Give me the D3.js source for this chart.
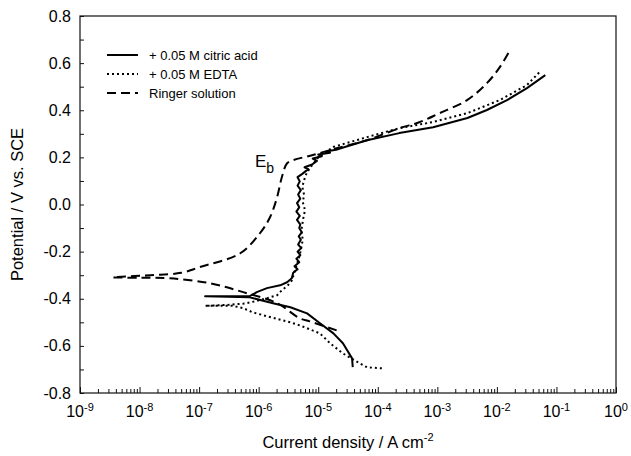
<!DOCTYPE html>
<html>
<head>
<meta charset="utf-8">
<script src="https://cdn.jsdelivr.net/npm/d3@7"></script>
<style>
  body { margin: 0; background: #fff; }
  text { font-family: Arial, "Liberation Sans", Helvetica, sans-serif; fill: #000; }
</style>
</head>
<body>
<script>
// [current density A/cm2, potential V vs SCE]
var citric = [
  [3.8e-5,-0.690],[3.7e-5,-0.653],[2.6e-5,-0.589],[1.8e-5,-0.547],[1.07e-5,-0.504],
  [6.5e-6,-0.462],[3.4e-6,-0.436],[1.74e-6,-0.419],[7.1e-7,-0.394],[1.26e-7,-0.389],
  [7.1e-7,-0.389],[9.3e-7,-0.372],[1.38e-6,-0.355],[2.29e-6,-0.343],[3.0e-6,-0.330],
  [3.6e-6,-0.313],[3.8e-6,-0.290],[4.5e-6,-0.275],[4.0e-6,-0.262],[4.8e-6,-0.245],
  [4.3e-6,-0.230],[5.0e-6,-0.215],[4.5e-6,-0.200],[5.2e-6,-0.185],[4.6e-6,-0.170],
  [5.1e-6,-0.150],[4.7e-6,-0.135],[5.3e-6,-0.118],[4.8e-6,-0.100],[5.0e-6,-0.085],
  [4.4e-6,-0.065],[4.9e-6,-0.048],[4.3e-6,-0.030],[4.8e-6,-0.012],[4.4e-6,0.006],
  [5.0e-6,0.025],[4.6e-6,0.042],[5.1e-6,0.061],[4.5e-6,0.080],[4.9e-6,0.098],
  [4.5e-6,0.116],[5.4e-6,0.130],[6.8e-6,0.150],[5.9e-6,0.158],[7.9e-6,0.170],
  [9.5e-6,0.185],[8.1e-6,0.195],[1.15e-5,0.205],[1.0e-5,0.212],[1.58e-5,0.220],
  [1.4e-5,0.226],[2.0e-5,0.232],[2.8e-5,0.244],[6.6e-5,0.273],[2.3e-4,0.303],
  [8.5e-4,0.328],[3.2e-3,0.367],[6.8e-3,0.401],[1.48e-2,0.443],[3.2e-2,0.494],[6.5e-2,0.549]
];

var edta = [
  [1.17e-4,-0.695],[6.6e-5,-0.691],[4.7e-5,-0.670],[2.6e-5,-0.632],[1.58e-5,-0.589],
  [1.07e-5,-0.547],[4.9e-6,-0.513],[3.4e-6,-0.500],[2.0e-6,-0.485],[1.2e-6,-0.470],
  [8.0e-7,-0.458],[5.5e-7,-0.440],[3.7e-7,-0.430],[1.26e-7,-0.430],[3.0e-7,-0.426],
  [6.0e-7,-0.420],[1.05e-6,-0.406],[2.04e-6,-0.385],[2.45e-6,-0.364],[3.09e-6,-0.343],
  [3.63e-6,-0.322],[4.07e-6,-0.279],[4.9e-6,-0.215],[5.5e-6,-0.150],[5.2e-6,-0.110],
  [5.6e-6,-0.060],[6.0e-6,-0.024],[5.5e-6,0.010],[5.8e-6,0.040],[5.4e-6,0.075],
  [6.0e-6,0.116],[6.5e-6,0.137],[7.9e-6,0.167],[1.0e-5,0.200],[1.78e-5,0.244],
  [6.6e-5,0.286],[2.3e-4,0.324],[8.5e-4,0.350],[3.2e-3,0.388],[1.12e-2,0.443],
  [3.2e-2,0.507],[5.2e-2,0.562]
];

var ringer = [
  [2.04e-5,-0.534],[7.2e-6,-0.496],[4.9e-6,-0.483],[2.04e-6,-0.419],[5.5e-7,-0.372],
  [1.51e-7,-0.334],[3.24e-8,-0.313],[1.0e-8,-0.311],[3.55e-9,-0.309],[1.51e-8,-0.300],
  [5.0e-8,-0.290],[1.02e-7,-0.266],[4.9e-7,-0.207],[1.05e-6,-0.122],[1.55e-6,-0.054],
  [2.04e-6,0.031],[2.45e-6,0.116],[3.0e-6,0.175],[3.8e-6,0.188],[8.1e-6,0.210],
  [2.04e-5,0.239],[6.6e-5,0.273],[2.34e-4,0.324],[5.1e-4,0.350],[1.10e-3,0.388],
  [3.16e-3,0.443],[6.8e-3,0.515],[1.12e-2,0.583],[1.66e-2,0.655]
];

var seriesNames = ["+ 0.05 M citric acid", "+ 0.05 M EDTA", "Ringer solution"];
var decades = [-9, -8, -7, -6, -5, -4, -3, -2, -1, 0];
var yTicks = d3.range(-8, 9).map(i => i / 10);

var width = 631, height = 456;
var svg = d3.select("body").append("svg")
  .attr("width", width)
  .attr("height", height);

var x = d3.scaleLog().domain([1e-9, 1]).range([80, 616]);
var y = d3.scaleLinear().domain([-0.8, 0.8]).range([393, 16]);

// minor ticks for log axis
var xTickVals = [];
decades.forEach(function(p) {
  if (p < 0) for (var m = 1; m < 10; m++) xTickVals.push(m * Math.pow(10, p));
});
xTickVals.push(1);

var xAxis = d3.axisBottom(x)
  .tickValues(xTickVals)
  .tickSizeInner(-4)
  .tickSizeOuter(0)
  .tickFormat("");

var gx = svg.append("g")
  .attr("transform", "translate(0," + y(-0.8) + ")")
  .call(xAxis);
gx.selectAll(".tick line")
  .attr("y2", d => Math.abs(Math.log10(d) - Math.round(Math.log10(d))) < 1e-9 ? -6 : -4);

var yAxis = d3.axisLeft(y)
  .tickValues(yTicks)
  .tickSizeInner(-4)
  .tickSizeOuter(0)
  .tickFormat("");

svg.append("g")
  .attr("transform", "translate(" + x(1e-9) + ",0)")
  .call(yAxis);

svg.selectAll(".domain").remove();
svg.selectAll(".tick line").attr("stroke", "#111").attr("stroke-width", 1);

// frame
svg.append("rect")
  .attr("x", x(1e-9))
  .attr("y", y(0.8))
  .attr("width", x(1) - x(1e-9))
  .attr("height", y(-0.8) - y(0.8))
  .attr("fill", "none")
  .attr("stroke", "#111")
  .attr("stroke-width", 1.2);

// y tick labels
svg.selectAll("text.ylab")
  .data(yTicks.filter((d, i) => i % 2 == 0))
  .enter()
  .append("text")
  .attr("class", "ylab")
  .attr("x", 71)
  .attr("y", d => y(d) + 5.5)
  .attr("text-anchor", "end")
  .style("font-size", "16px")
  .text(d => (Math.abs(d) < 1e-9 ? 0 : d).toFixed(1));

// x tick labels
var xl = svg.selectAll("text.xlab")
  .data(decades)
  .enter()
  .append("text")
  .attr("class", "xlab")
  .attr("x", d => x(Math.pow(10, d)))
  .attr("y", 417)
  .attr("text-anchor", "middle")
  .style("font-size", "16px");
xl.append("tspan").text("10");
xl.append("tspan")
  .attr("dy", -6)
  .style("font-size", "11px")
  .text(d => d == 0 ? "0" : "-" + Math.abs(d));

// axis titles
svg.append("text")
  .attr("transform", "translate(23," + y(0) + ") rotate(-90)")
  .attr("text-anchor", "middle")
  .style("font-size", "16.5px")
  .text("Potential / V vs. SCE");

var xt = svg.append("text")
  .attr("x", 348)
  .attr("y", 448)
  .attr("text-anchor", "middle")
  .style("font-size", "16.5px");
xt.append("tspan").text("Current density / A cm");
xt.append("tspan").attr("dy", -7).style("font-size", "11px").text("-2");

// curves
var line = d3.line()
  .x(d => x(d[0]))
  .y(d => y(d[1]));

var smooth = d3.line()
  .x(d => x(d[0]))
  .y(d => y(d[1]))
  .curve(d3.curveCatmullRom.alpha(0.5));

var styles = [
  { data: citric, dash: null, gen: line },
  { data: edta, dash: "2,3", gen: line },
  { data: ringer, dash: "9,5", gen: smooth }
];

svg.selectAll("path.curve")
  .data(styles)
  .enter()
  .append("path")
  .attr("class", "curve")
  .attr("d", d => d.gen(d.data))
  .attr("fill", "none")
  .attr("stroke", "#000")
  .attr("stroke-width", 2)
  .attr("stroke-linejoin", "round")
  .attr("stroke-dasharray", d => d.dash);

// legend
var legend = svg.selectAll("g.legend")
  .data(styles)
  .enter()
  .append("g")
  .attr("class", "legend")
  .attr("transform", (d, i) => "translate(107," + [55, 74, 93][i] + ")");

legend.append("line")
  .attr("x1", 0).attr("x2", 31)
  .attr("stroke", "#000")
  .attr("stroke-width", 2)
  .attr("stroke-dasharray", d => d.dash);

legend.append("text")
  .attr("x", 42)
  .attr("y", 5)
  .style("font-size", "13px")
  .text((d, i) => seriesNames[i]);

// breakdown potential label
var eb = svg.append("text")
  .attr("x", 255)
  .attr("y", 167)
  .style("font-size", "17px");
eb.append("tspan").text("E");
eb.append("tspan").attr("dy", 6).style("font-size", "14px").text("b");
</script>
</body>
</html>
